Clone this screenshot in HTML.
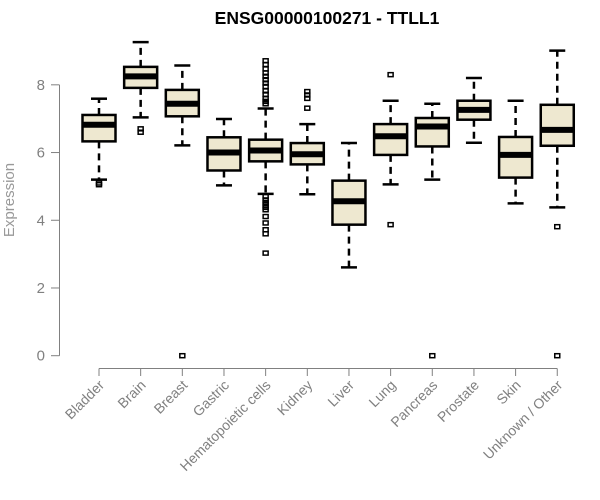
<!DOCTYPE html>
<html><head><meta charset="utf-8"><style>
body{margin:0;background:#fff;font-family:"Liberation Sans",Arial,sans-serif}
svg{display:block}
</style></head><body>
<svg id="chart" width="600" height="500" viewBox="0 0 600 500">
<text x="327" y="24" text-anchor="middle" font-weight="bold" font-size="17.5" fill="#000">ENSG00000100271 - TTLL1</text>
<text transform="translate(14,200) rotate(-90)" text-anchor="middle" font-size="15" fill="#999">Expression</text>
<g id="yaxis"></g>
<g id="xaxis"></g>
<g id="boxes"></g>
</svg>
<script>
const categories=["Bladder","Brain","Breast","Gastric","Hematopoietic cells","Kidney","Liver","Lung","Pancreas","Prostate","Skin","Unknown / Other"];
const whiskerLow=[5.2,7.04,6.21,5.03,4.78,4.77,2.61,5.06,5.2,6.29,4.5,4.38];
const q1=[6.33,7.91,7.07,5.47,5.74,5.65,3.87,5.93,6.18,6.97,5.26,6.2];
const medians=[6.82,8.25,7.44,6.0,6.06,5.95,4.56,6.48,6.77,7.26,5.93,6.67];
const q3=[7.11,8.53,7.85,6.45,6.38,6.28,5.17,6.84,7.02,7.53,6.46,7.41];
const whiskerHigh=[7.59,9.26,8.57,6.99,7.3,6.84,6.28,7.53,7.44,8.2,7.53,9.01];
const outliers=[[5.1,5.05],[6.7,6.6],[0],[],[8.71,8.6,8.47,8.35,8.25,8.15,8.05,7.95,7.82,7.72,7.59,7.51,7.44,4.7,4.6,4.52,4.45,4.38,4.31,4.11,3.92,3.72,3.6,3.03],[7.8,7.7,7.6,7.31],[],[8.3,3.87],[0],[],[],[3.81,0]];
const yTicks=[0,2,4,6,8];
const NS="http://www.w3.org/2000/svg";
const y=v=>355.7-v*33.86;
const x=i=>99+i*41.66;
function mk(p,t,a){const e=document.createElementNS(NS,t);for(const k in a)e.setAttribute(k,a[k]);p.appendChild(e);return e;}
const ya=document.getElementById('yaxis');
const la=mk(ya,'line',{x1:59.5,x2:59.5,y1:y(yTicks[0]),y2:y(yTicks[yTicks.length-1]),stroke:'#808080'});


yTicks.forEach(t=>{
 const tk=mk(ya,'line',{x1:51,x2:59.5,y1:y(t),y2:y(t),stroke:'#808080'});
 
 
 const tx=mk(ya,'text',{x:45,y:y(t)+5,'text-anchor':'end','font-size':15,fill:'#808080'});
 tx.textContent=t;
 
 
});
const xa=document.getElementById('xaxis');
const lx=mk(xa,'line',{x1:x(0),x2:x(categories.length-1),y1:368.5,y2:368.5,stroke:'#808080'});


categories.forEach((c,i)=>{
 const tk=mk(xa,'line',{x1:x(i),x2:x(i),y1:368.5,y2:376,stroke:'#808080'});
 
 
 const tx=mk(xa,'text',{transform:`translate(${x(i)+6},${386}) rotate(-45)`,'text-anchor':'end','font-size':14,fill:'#808080'});
 tx.textContent=c;
 
 
});
const bx=document.getElementById('boxes');
categories.forEach((c,i)=>{
 const g=mk(bx,'g',{});
 
 
 const cx=x(i),hw=16.5,cw=8;
 mk(g,'line',{x1:cx,x2:cx,y1:y(q3[i]),y2:y(whiskerHigh[i]),stroke:'#000','stroke-width':2.5,'stroke-dasharray':'7,5'});
 mk(g,'line',{x1:cx,x2:cx,y1:y(q1[i]),y2:y(whiskerLow[i]),stroke:'#000','stroke-width':2.5,'stroke-dasharray':'7,5'});
 mk(g,'line',{x1:cx-cw,x2:cx+cw,y1:y(whiskerHigh[i]),y2:y(whiskerHigh[i]),stroke:'#000','stroke-width':2.5});
 mk(g,'line',{x1:cx-cw,x2:cx+cw,y1:y(whiskerLow[i]),y2:y(whiskerLow[i]),stroke:'#000','stroke-width':2.5});
 mk(g,'rect',{x:cx-hw,y:y(q3[i]),width:2*hw,height:y(q1[i])-y(q3[i]),fill:'#EEE8D0',stroke:'#000','stroke-width':2.5});
 mk(g,'line',{x1:cx-hw,x2:cx+hw,y1:y(medians[i]),y2:y(medians[i]),stroke:'#000','stroke-width':6});
 outliers[i].forEach(o=>{
  const p=mk(g,'rect',{x:cx-2.5,y:y(o)-2,width:5,height:4,fill:'none',stroke:'#000','stroke-width':1.5});
  
  
 });
});
</script>
</body></html>
